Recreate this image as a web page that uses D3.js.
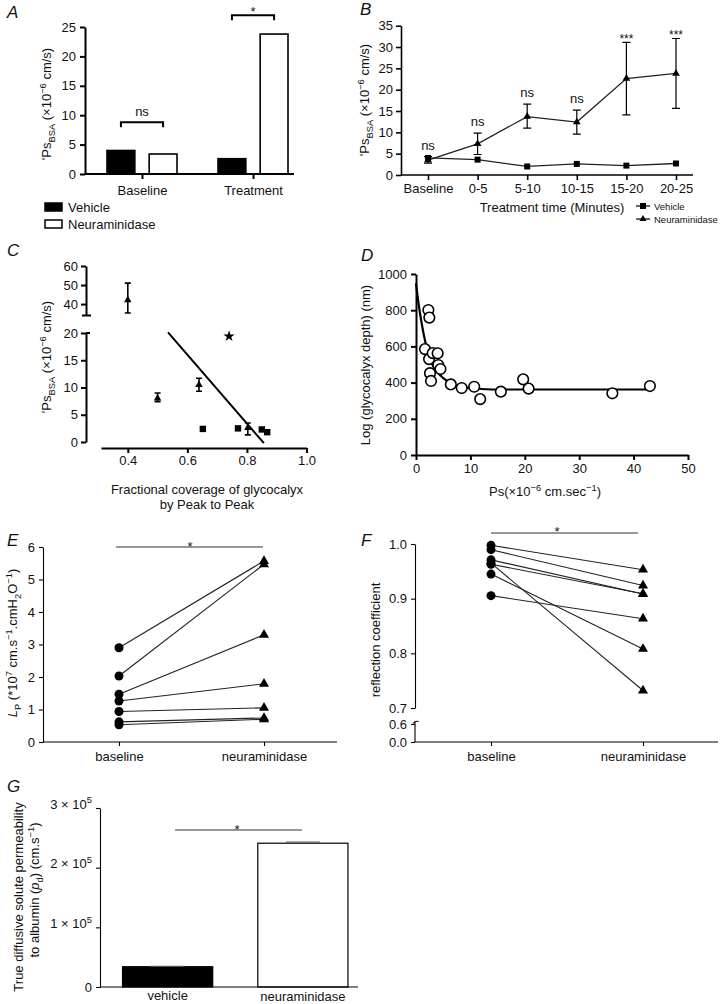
<!DOCTYPE html>
<html>
<head>
<meta charset="utf-8">
<script src="https://cdn.jsdelivr.net/npm/d3@7"></script>
<style>
  body { margin: 0; background: #fff; }
  svg { font-family: "Liberation Sans", Arial, sans-serif; }
  .axis text { font-family: "Liberation Sans", Arial, sans-serif; font-size: 13px; fill: #111; }
</style>
</head>
<body>
<svg width="723" height="1004"></svg>
<script>
// ---- data ----
// A
const aCats = ['Baseline', 'Treatment']
const aSeries = ['Vehicle', 'Neuraminidase']
const aVehicle = [4.0, 2.6]
const aNeura = [3.4, 23.8]
// B
const bTimes = ['Baseline', '0-5', '5-10', '10-15', '15-20', '20-25']
const bVehicle = [4.0, 3.6, 2.0, 2.6, 2.2, 2.7]
const bVehicleErr = [0.4, 0.4, 0.3, 0.3, 0.3, 0.3]
const bNeura = [3.5, 7.3, 13.7, 12.4, 22.6, 23.8]
const bNeuraLo = [2.8, 4.8, 11.0, 9.6, 14.1, 15.6]
const bNeuraHi = [4.3, 9.8, 16.6, 15.2, 31.1, 32.0]
const bSig = ['ns', 'ns', 'ns', 'ns', '***', '***']
// C
const cTriX = [0.40, 0.50, 0.639, 0.803]
const cTriY = [42.1, 8.0, 10.5, 2.6]
const cTriLo = [35.3, 7.4, 9.3, 1.3]
const cTriHi = [51.0, 9.0, 11.7, 3.5]
const cSqX = [0.652, 0.77, 0.85, 0.868]
const cSqY = [2.4, 2.5, 2.3, 1.8]
const cStarX = [0.74]
const cStarY = [19.4]
const cFitX = [0.535, 0.857]
const cFitY = [20.1, -0.2]
// D
const dPs = [2.27, 2.45, 1.65, 2.4, 3.07, 3.98, 4.1, 4.5, 2.57, 2.76, 6.4, 8.4, 10.7, 11.8, 15.6, 19.7, 20.7, 36.1, 43.0]
const dDepth = [801, 759, 585, 530, 563, 562, 497, 475, 452, 409, 390, 370, 377, 309, 350, 418, 367, 341, 381]
const dFitX = [0, 0.5, 1, 1.5, 2, 3, 4, 5, 7, 10, 14, 43]
const dFitY = [948, 830, 735, 655, 590, 500, 455, 425, 390, 370, 362, 362]
// E
const eGroups = ['baseline', 'neuraminidase']
const eBase = [2.9, 2.03, 1.47, 1.26, 0.94, 0.62, 0.53]
const eNeura = [5.57, 5.47, 3.30, 1.79, 1.05, 0.74, 0.70]
// F
const fBase = [0.9976, 0.9896, 0.971, 0.965, 0.963, 0.945, 0.9055]
const fNeura = [0.953, 0.924, 0.9085, 0.732, 0.909, 0.808, 0.8634]
// G
const gCats = ['vehicle', 'neuraminidase']
const gVals = [0.34e5, 2.41e5]
const gErr = [0.005e5, 0.02e5]

const svg = d3.select('svg')

function rich(t, parts, size) {
  let shift = 0
  for (const [s, k] of parts) {
    const want = k === 'sub' ? size * 0.3 : k === 'sup' ? -size * 0.4 : 0
    const ts = t.append('tspan').attr('dy', want - shift).text(s)
    shift = want
    if (k === 'sub' || k === 'sup') ts.attr('font-size', size * 0.72)
    if (k === 'i') ts.attr('font-style', 'italic')
  }
  return t
}
function label(x, y, parts, opts = {}) {
  const size = opts.size || 13
  const t = svg.append('text').attr('font-size', size)
    .attr('text-anchor', opts.anchor || 'middle').attr('fill', '#111')
  if (opts.rotate) t.attr('transform', `translate(${x},${y}) rotate(-90)`)
  else t.attr('x', x).attr('y', y)
  if (opts.italic) t.attr('font-style', 'italic')
  return rich(t, typeof parts === 'string' ? [[parts]] : parts, size)
}
function styleAxis(g, w) {
  g.attr('class', 'axis')
  g.selectAll('path,line').attr('stroke', '#000').attr('stroke-width', w)
}
function hline(x1, x2, y, w = 1, c = '#000') {
  svg.append('line').attr('x1', x1).attr('x2', x2).attr('y1', y).attr('y2', y)
    .attr('stroke', c).attr('stroke-width', w)
}
const tri = d3.symbol(d3.symbolTriangle)
const panelLetter = (x, y, s) => label(x, y, s, {anchor: 'start', italic: true, size: 17})

// ================= A =================
panelLetter(7, 18, 'A')
const ax = d3.scalePoint().domain(aCats).range([142, 253])
const aSub = d3.scaleBand().domain(aSeries).range([-35, 35]).paddingInner(0.34)
const ay = d3.scaleLinear().domain([0, 25]).range([174, 27])
const aRows = aCats.flatMap((c, i) => [
  {c, s: 'Vehicle', v: aVehicle[i]}, {c, s: 'Neuraminidase', v: aNeura[i]}])
svg.append('g').selectAll('rect').data(aRows).join('rect')
  .attr('x', d => ax(d.c) + aSub(d.s))
  .attr('width', aSub.bandwidth())
  .attr('y', d => ay(d.v))
  .attr('height', d => ay(0) - ay(d.v))
  .attr('fill', d => d.s === 'Vehicle' ? '#000' : '#fff')
  .attr('stroke', '#000').attr('stroke-width', 1.6)
svg.append('g').attr('transform', 'translate(85,0)')
  .call(d3.axisLeft(ay).tickValues([0, 5, 10, 15, 20, 25]).tickSize(5).tickSizeOuter(0).tickPadding(4))
  .call(g => styleAxis(g, 2))
svg.append('g').attr('transform', `translate(0,${ay(0)})`)
  .call(d3.axisBottom(ax).tickSize(5).tickSizeOuter(0).tickPadding(7))
  .call(g => g.select('.domain').attr('d', 'M85,0H294'))
  .call(g => styleAxis(g, 2))
label(51, 104, [["'Ps"], ['BSA', 'sub'], [' (×10'], ['−6', 'sup'], [' cm/s)']], {rotate: true})
// brackets
const aBr = [{c: 'Baseline', v: 8.8, t: 'ns'}, {c: 'Treatment', v: 27.0, t: '*'}]
aBr.forEach(b => {
  const x1 = ax(b.c) + aSub('Vehicle') + aSub.bandwidth() / 2
  const x2 = ax(b.c) + aSub('Neuraminidase') + aSub.bandwidth() / 2
  const y = ay(b.v)
  svg.append('path').attr('d', `M${x1},${y + 5}V${y}H${x2}V${y + 5}`)
    .attr('fill', 'none').attr('stroke', '#000').attr('stroke-width', 2)
  label((x1 + x2) / 2, b.t === '*' ? y + 1 : y - 6, b.t)
})
// legend
aSeries.forEach((s, i) => {
  svg.append('rect').attr('x', 45).attr('y', 203 + i * 17).attr('width', 17).attr('height', 8)
    .attr('fill', i === 0 ? '#000' : '#fff').attr('stroke', '#000').attr('stroke-width', 1.5)
  label(68, 212 + i * 17, s, {anchor: 'start'})
})

// ================= B =================
panelLetter(360, 15, 'B')
const bx = d3.scalePoint().domain(bTimes).range([428, 676])
const by = d3.scaleLinear().domain([0, 35]).range([175, 25.7])
svg.append('g').attr('transform', 'translate(401,0)')
  .call(d3.axisLeft(by).tickValues(d3.range(0, 36, 5)).tickSize(5).tickSizeOuter(0).tickPadding(3))
  .call(g => styleAxis(g, 1.6))
svg.append('g').attr('transform', `translate(0,${by(0)})`)
  .call(d3.axisBottom(bx).tickSize(5).tickSizeOuter(0).tickPadding(4))
  .call(g => g.select('.domain').attr('d', 'M401,0H693'))
  .call(g => styleAxis(g, 1.6))
label(369, 100, [["'Ps"], ['BSA', 'sub'], [' (×10'], ['−6', 'sup'], [' cm/s)']], {rotate: true})
label(552, 212, 'Treatment time (Minutes)')
const bLine = d3.line().x((d, i) => bx(bTimes[i])).y(d => by(d))
svg.append('path').datum(bVehicle).attr('d', bLine).attr('fill', 'none').attr('stroke', '#222').attr('stroke-width', 1.3)
svg.append('path').datum(bNeura).attr('d', bLine).attr('fill', 'none').attr('stroke', '#222').attr('stroke-width', 1.3)
bTimes.forEach((t, i) => {
  const x = bx(t)
  svg.append('path')
    .attr('d', `M${x - 4},${by(bNeuraHi[i])}H${x + 4}M${x},${by(bNeuraHi[i])}V${by(bNeuraLo[i])}M${x - 4},${by(bNeuraLo[i])}H${x + 4}`)
    .attr('stroke', '#000').attr('stroke-width', 1.2).attr('fill', 'none')
  svg.append('path')
    .attr('d', `M${x},${by(bVehicle[i] + bVehicleErr[i])}V${by(bVehicle[i] - bVehicleErr[i])}`)
    .attr('stroke', '#000').attr('stroke-width', 1.2)
  svg.append('rect').attr('x', x - 3).attr('y', by(bVehicle[i]) - 3).attr('width', 6).attr('height', 6).attr('fill', '#000')
  svg.append('path').attr('d', tri.size(26)()).attr('transform', `translate(${x},${by(bNeura[i])})`).attr('fill', '#000')
  label(x, by(bNeuraHi[i]) - (bSig[i] === 'ns' ? 7 : -1), bSig[i], {size: bSig[i] === 'ns' ? 13 : 12})
})
// legend
;[['Vehicle', 'sq'], ['Neuraminidase', 'tri']].forEach(([s, m], i) => {
  const y = 206 + i * 13
  hline(636, 650, y, 1.2)
  if (m === 'sq') svg.append('rect').attr('x', 640).attr('y', y - 3).attr('width', 6).attr('height', 6).attr('fill', '#000')
  else svg.append('path').attr('d', tri.size(22)()).attr('transform', `translate(643,${y})`).attr('fill', '#000')
  label(654, y + 3.5, s, {anchor: 'start', size: 9.5})
})

// ================= C =================
panelLetter(7, 256, 'C')
const cx = d3.scaleLinear().domain([0.31, 1.0]).range([101, 306.5])
const cyTop = d3.scaleLinear().domain([34, 60]).range([315.5, 266])
const cyBot = d3.scaleLinear().domain([0, 20]).range([442, 333])
const cy = v => v > 30 ? cyTop(v) : cyBot(v)
svg.append('g').attr('transform', 'translate(86,0)')
  .call(d3.axisLeft(cyTop).tickValues([40, 50, 60]).tickSize(5).tickSizeOuter(0).tickPadding(3))
  .call(g => styleAxis(g, 2))
svg.append('g').attr('transform', 'translate(86,0)')
  .call(d3.axisLeft(cyBot).tickValues([0, 5, 10, 15, 20]).tickSize(5).tickSizeOuter(0).tickPadding(3))
  .call(g => styleAxis(g, 2))
hline(82, 91, cyTop(34), 2)
hline(86, 90, cyBot(20), 2)
svg.append('g').attr('transform', 'translate(0,448)')
  .call(d3.axisBottom(cx).tickValues([0.4, 0.6, 0.8, 1.0]).tickFormat(d3.format('.1f')).tickSize(5).tickSizeOuter(0).tickPadding(3))
  .call(g => styleAxis(g, 2))
label(51, 357, [["'Ps"], ['BSA', 'sub'], [' (×10'], ['−6', 'sup'], [' cm/s)']], {rotate: true})
label(207, 494, 'Fractional coverage of glycocalyx')
label(207, 509, 'by Peak to Peak')
svg.append('line').attr('x1', cx(cFitX[0])).attr('y1', cy(cFitY[0])).attr('x2', cx(cFitX[1])).attr('y2', cy(cFitY[1]))
  .attr('stroke', '#000').attr('stroke-width', 2)
cTriX.forEach((v, i) => {
  const x = cx(v)
  svg.append('path')
    .attr('d', `M${x - 3},${cy(cTriHi[i])}H${x + 3}M${x},${cy(cTriHi[i])}V${cy(cTriLo[i])}M${x - 3},${cy(cTriLo[i])}H${x + 3}`)
    .attr('stroke', '#000').attr('stroke-width', 1.6).attr('fill', 'none')
  svg.append('path').attr('d', tri.size(24)()).attr('transform', `translate(${x},${cy(cTriY[i])})`).attr('fill', '#000')
})
cSqX.forEach((v, i) => {
  svg.append('rect').attr('x', cx(v) - 3.2).attr('y', cy(cSqY[i]) - 3.2).attr('width', 6.4).attr('height', 6.4).attr('fill', '#000')
})
cStarX.forEach((v, i) => {
  svg.append('path').attr('d', d3.symbol(d3.symbolStar).size(40)()).attr('transform', `translate(${cx(v)},${cy(cStarY[i])})`).attr('fill', '#000')
})

// ================= D =================
panelLetter(361, 261, 'D')
const dx = d3.scaleLinear().domain([0, 50]).range([416, 688])
const dy = d3.scaleLinear().domain([0, 1000]).range([455, 274])
svg.append('g').attr('transform', 'translate(416,0)')
  .call(d3.axisLeft(dy).tickValues(d3.range(0, 1001, 200)).tickFormat(d3.format('d')).tickSize(5).tickSizeOuter(0).tickPadding(4))
  .call(g => styleAxis(g, 2))
svg.append('g').attr('transform', 'translate(0,455)')
  .call(d3.axisBottom(dx).tickValues(d3.range(0, 51, 10)).tickSize(5).tickSizeOuter(0).tickPadding(4))
  .call(g => styleAxis(g, 2))
label(370, 365, 'Log (glycocalyx depth) (nm)', {rotate: true})
label(545, 496, [['Ps(×10'], ['−6', 'sup'], [' cm.sec'], ['−1', 'sup'], [')']])
svg.append('path').datum(dFitX.map((x, i) => [x, dFitY[i]]))
  .attr('d', d3.line().x(d => dx(d[0])).y(d => dy(d[1])).curve(d3.curveMonotoneX))
  .attr('fill', 'none').attr('stroke', '#000').attr('stroke-width', 2.2)
svg.append('g').selectAll('circle').data(dPs).join('circle')
  .attr('cx', d => dx(d)).attr('cy', (d, i) => dy(dDepth[i])).attr('r', 5.3)
  .attr('fill', '#fff').attr('stroke', '#000').attr('stroke-width', 1.6)

// ================= E =================
panelLetter(7, 546, 'E')
const ex = d3.scalePoint().domain(eGroups).range([119, 264])
const ey = d3.scaleLinear().domain([0, 6]).range([742, 547])
svg.append('g').attr('transform', 'translate(43,0)')
  .call(d3.axisLeft(ey).tickValues(d3.range(0, 7)).tickFormat(d3.format('d')).tickSize(4).tickSizeOuter(0).tickPadding(4))
  .call(g => styleAxis(g, 1.1))
svg.append('g').attr('transform', 'translate(0,742)')
  .call(d3.axisBottom(ex).tickSize(4).tickSizeOuter(0).tickPadding(6))
  .call(g => g.select('.domain').attr('d', 'M43,0H337'))
  .call(g => styleAxis(g, 1.1))
label(17, 643, [['L', 'i'], ['P', 'sub'], [' (*10'], ['7', 'sup'], [' cm.s'], ['−1', 'sup'], ['.cmH'], ['2', 'sub'], ['O'], ['−1', 'sup'], [')']], {rotate: true})
eBase.forEach((b, i) => {
  svg.append('line').attr('x1', ex('baseline')).attr('y1', ey(b)).attr('x2', ex('neuraminidase')).attr('y2', ey(eNeura[i]))
    .attr('stroke', '#222').attr('stroke-width', 1.1)
})
svg.append('g').selectAll('circle').data(eBase).join('circle')
  .attr('cx', ex('baseline')).attr('cy', d => ey(d)).attr('r', 4.5).attr('fill', '#000')
svg.append('g').selectAll('path').data(eNeura).join('path')
  .attr('d', tri.size(44)()).attr('transform', d => `translate(${ex('neuraminidase')},${ey(d)})`).attr('fill', '#000')
hline(116, 263, 547, 1, '#333')
label(190, 551, '*')

// ================= F =================
panelLetter(361, 546, 'F')
const fx = d3.scalePoint().domain(eGroups).range([491, 643])
const fyTop = d3.scaleLinear().domain([0.7, 1.0]).range([708, 544])
const fyBot = d3.scaleLinear().domain([0, 0.6]).range([742, 724])
svg.append('g').attr('transform', 'translate(415,0)')
  .call(d3.axisLeft(fyTop).tickValues([0.7, 0.8, 0.9, 1.0]).tickFormat(d3.format('.1f')).tickSize(4).tickSizeOuter(0).tickPadding(4))
  .call(g => styleAxis(g, 1.1))
svg.append('g').attr('transform', 'translate(415,0)')
  .call(d3.axisLeft(fyBot).tickValues([0, 0.6]).tickFormat(d3.format('.1f')).tickSize(4).tickSizeOuter(0).tickPadding(4))
  .call(g => g.select('.domain').attr('d', 'M0,721.5V742'))
  .call(g => styleAxis(g, 1.1))
svg.append('path').attr('d', 'M413,723.5Q415,720.5 418.5,721.5').attr('fill', 'none').attr('stroke', '#000').attr('stroke-width', 1.1)
svg.append('g').attr('transform', 'translate(0,742)')
  .call(d3.axisBottom(fx).tickSize(4).tickSizeOuter(0).tickPadding(6))
  .call(g => g.select('.domain').attr('d', 'M415,0H718'))
  .call(g => styleAxis(g, 1.1))
label(380, 640, 'reflection coefficient', {rotate: true})
fBase.forEach((b, i) => {
  svg.append('line').attr('x1', fx('baseline')).attr('y1', fyTop(b)).attr('x2', fx('neuraminidase')).attr('y2', fyTop(fNeura[i]))
    .attr('stroke', '#222').attr('stroke-width', 1.1)
})
svg.append('g').selectAll('circle').data(fBase).join('circle')
  .attr('cx', fx('baseline')).attr('cy', d => fyTop(d)).attr('r', 4.5).attr('fill', '#000')
svg.append('g').selectAll('path').data(fNeura).join('path')
  .attr('d', tri.size(44)()).attr('transform', d => `translate(${fx('neuraminidase')},${fyTop(d)})`).attr('fill', '#000')
hline(491, 638, 533, 1, '#333')
label(557, 536, '*')

// ================= G =================
panelLetter(7, 792, 'G')
const gx = d3.scaleBand().domain(gCats).range([100, 370.5]).paddingInner(1 / 3).paddingOuter(1 / 6)
const gy = d3.scaleLinear().domain([0, 3e5]).range([987, 808])
svg.append('g').selectAll('rect').data(gCats).join('rect')
  .attr('x', d => gx(d)).attr('width', gx.bandwidth())
  .attr('y', (d, i) => gy(gVals[i])).attr('height', (d, i) => gy(0) - gy(gVals[i]))
  .attr('fill', (d, i) => i === 0 ? '#000' : '#fff').attr('stroke', '#000').attr('stroke-width', 1.2)
gCats.forEach((c, i) => {
  const xc = gx(c) + gx.bandwidth() / 2
  hline(xc - 17, xc + 17, gy(gVals[i] + gErr[i]), 1.2, '#555')
  label(xc, 1000 + i, c)
})
svg.append('g').attr('transform', 'translate(100,0)')
  .call(d3.axisLeft(gy).tickValues([0, 1e5, 2e5, 3e5]).tickFormat('').tickSize(4).tickSizeOuter(0))
  .call(g => styleAxis(g, 1.1))
  .call(g => g.selectAll('.tick').each(function (d) {
    const t = d3.select(this).select('text').attr('x', -8).attr('dy', '0.32em')
    if (d === 0) t.text('0')
    else rich(t, [[`${d / 1e5} × 10`], ['5', 'sup']], 13)
  }))
hline(100, 358, 987, 1.1)
label(23, 897, 'True diffusive solute permeability', {rotate: true})
label(39, 890, [['to albumin ('], ['p', 'i'], ['d', 'sub'], [') (cm.s'], ['−1', 'sup'], [')']], {rotate: true})
hline(175, 302, 830, 1, '#333')
label(237, 834, '*')
</script>
</body>
</html>
